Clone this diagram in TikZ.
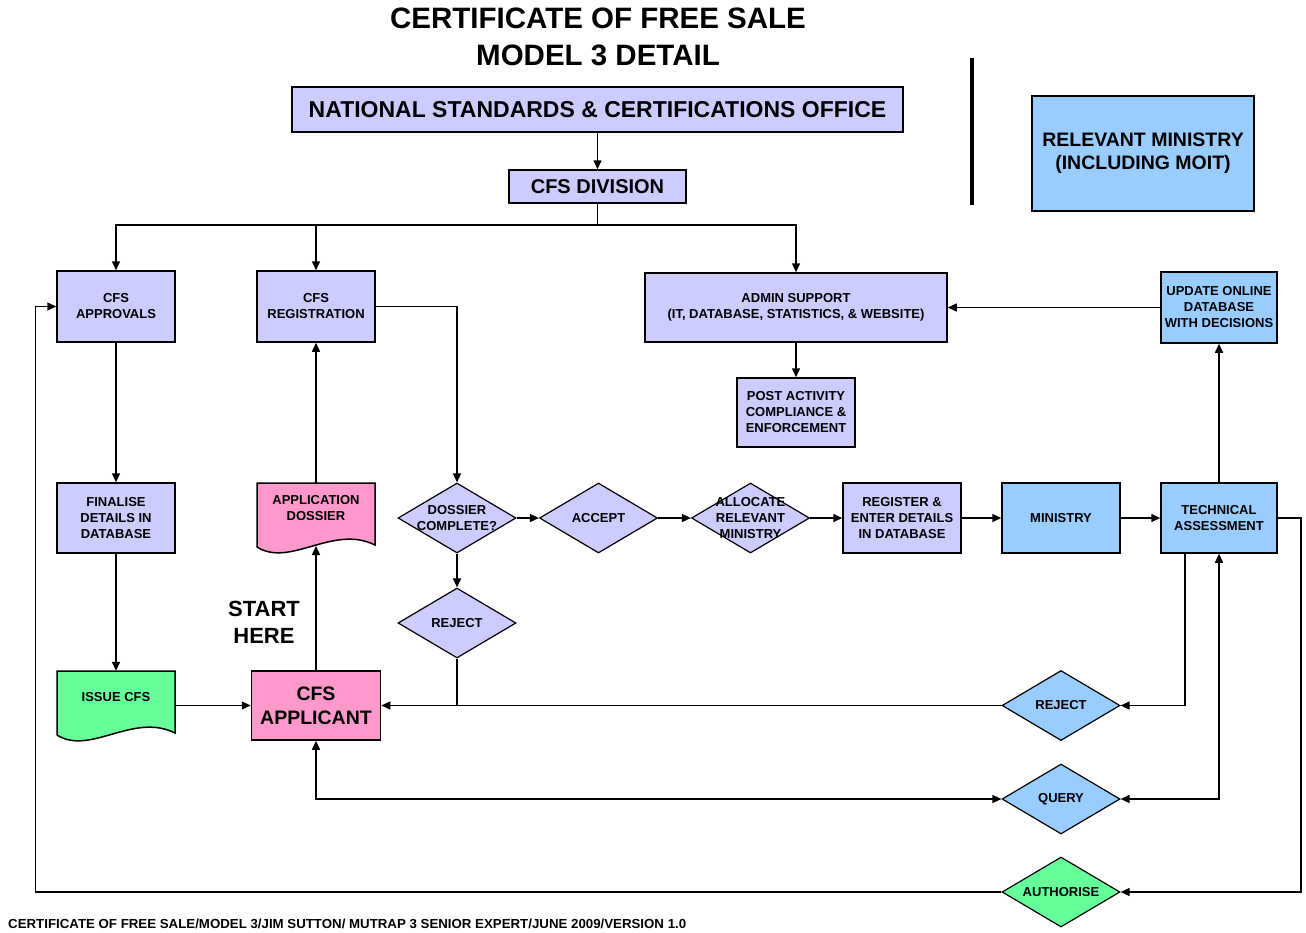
\documentclass[tikz,border=0pt]{standalone}
\usepackage{fontspec}
\setmainfont{Liberation Sans}
\usetikzlibrary{shapes.geometric,arrows.meta,calc}
\definecolor{lav}{HTML}{CCCCFF}
\definecolor{sky}{HTML}{99CCFF}
\definecolor{rose}{HTML}{FF99CC}
\definecolor{mint}{HTML}{66FF99}
\newcommand\docshape[3]{\draw[line width=1.5pt, fill=#3] (#1,#2) -- ++(118,0) -- ++(0,62) .. controls +(-42,-21) and +(33,21) .. ++(-118,2) -- cycle;}
\begin{document}
\begin{tikzpicture}[x=1pt,y=-1pt,
  every node/.style={font=\bfseries},
  box/.style={draw, line width=1.5pt, inner sep=0pt, align=center, minimum width=118, minimum height=70, font=\bfseries\fontsize{13}{16}\selectfont},
  dia/.style={draw, line width=1.2pt, diamond, inner sep=0pt, minimum width=118, minimum height=70},
  dtext/.style={align=center, inner sep=0pt, font=\bfseries\fontsize{13}{16}\selectfont},
  docnode/.style={draw=none, inner sep=0pt, minimum width=118},
  line/.style={line width=1.5pt},
  arr/.style={line width=1.5pt, -{Triangle[length=9pt,width=8pt]}},
  arrtwo/.style={line width=1.5pt, {Triangle[length=9pt,width=8pt]}-{Triangle[length=9pt,width=8pt]}}
]
\useasboundingbox[fill=white] (0,0) rectangle (1306,932);

% title
\node[align=center, font=\bfseries\fontsize{29.5}{37}\selectfont] (title) at (598,36.5) {CERTIFICATE OF FREE SALE\\MODEL 3 DETAIL};

% top boxes
\node[box, fill=lav, minimum width=611, minimum height=45, font=\bfseries\fontsize{23}{26}\selectfont] (nsco) at (597.5,109.5) {NATIONAL STANDARDS \& CERTIFICATIONS OFFICE};
\node[box, fill=lav, minimum width=177, minimum height=33, font=\bfseries\fontsize{20}{24}\selectfont] (cfsdiv) at (597.5,186.5) {CFS DIVISION};
\node[box, fill=sky, minimum width=222, minimum height=115, font=\bfseries\fontsize{19.5}{23}\selectfont] (relmin) at (1143,153.5) {RELEVANT MINISTRY\\(INCLUDING MOIT)};
\draw[line width=4pt] (972,58) -- (972,205);

% second row
\node[box, fill=lav, minimum height=71] (approvals) at (116,306.5) {CFS\\APPROVALS};
\node[box, fill=lav, minimum height=71] (registration) at (316,306.5) {CFS\\REGISTRATION};
\node[box, fill=lav, minimum width=302, minimum height=69] (admin) at (796,307.5) {ADMIN SUPPORT\\(IT, DATABASE, STATISTICS, \& WEBSITE)};
\node[box, fill=lav, minimum height=69] (post) at (796,412.5) {POST ACTIVITY\\COMPLIANCE \&\\ENFORCEMENT};
\node[box, fill=sky, minimum width=116, minimum height=71] (update) at (1219,307.5) {UPDATE ONLINE\\DATABASE\\WITH DECISIONS};

% third row
\node[box, fill=lav] (finalise) at (116,518) {FINALISE\\DETAILS IN\\DATABASE};
\docshape{257}{483}{rose}
\node[docnode, minimum height=65] (dossier) at (316,515.5) {};
\node[dtext] (dossiertext) at (316,508) {APPLICATION\\DOSSIER};
\coordinate (dossierwave) at (316,546);
\node[dia, fill=lav] (dc) at (457,518) {};
\node[dtext] (dctext) at (457,518) {DOSSIER\\COMPLETE?};
\node[dia, fill=lav] (accept) at (598.5,518) {};
\node[dtext] (accepttext) at (598.5,518) {ACCEPT};
\node[dia, fill=lav] (allocate) at (750.5,518) {};
\node[dtext] (allocatetext) at (750.5,518) {ALLOCATE\\RELEVANT\\MINISTRY};
\node[box, fill=lav] (register) at (902,518) {REGISTER \&\\ENTER DETAILS\\IN DATABASE};
\node[box, fill=sky] (ministry) at (1061,518) {MINISTRY};
\node[box, fill=sky, minimum width=116] (tech) at (1219,518) {TECHNICAL\\ASSESSMENT};

% lower part
\node[dia, fill=lav] (rejectp) at (457,623) {};
\node[dtext] (rejectptext) at (457,623) {REJECT};
\node[align=center, font=\bfseries\fontsize{22}{27}\selectfont] (start) at (264,622.5) {START\\HERE};
\docshape{57}{671}{mint}
\node[docnode, minimum height=69] (issue) at (116,705.5) {};
\node[dtext] (issuetext) at (116,697) {ISSUE CFS};
\node[box, fill=rose, minimum width=129, minimum height=69, font=\bfseries\fontsize{19.5}{24}\selectfont] (applicant) at (316,705.5) {CFS\\APPLICANT};
\node[dia, fill=sky] (rejectb) at (1061,705.5) {};
\node[dtext] (rejectbtext) at (1061,705.5) {REJECT};
\node[dia, fill=sky] (query) at (1061,799) {};
\node[dtext] (querytext) at (1061,799) {QUERY};
\node[dia, fill=mint] (authorise) at (1061,892) {};
\node[dtext] (authorisetext) at (1061,892) {AUTHORISE};

% footer
\node[anchor=west, inner sep=0pt] (footer) at (8,924) {\resizebox{678pt}{9.5pt}{\bfseries CERTIFICATE OF FREE SALE/MODEL 3/JIM SUTTON/ MUTRAP 3 SENIOR EXPERT/JUNE 2009/VERSION 1.0}};

% connectors
\draw[arr] (nsco.south) -- (cfsdiv.north);
\coordinate (bus) at (597.5,225);
\draw[line] (cfsdiv.south) -- (bus);
\draw[arr] (bus) -| (approvals.north);
\draw[arr] (bus) -| (registration.north);
\draw[arr] (bus) -| (admin.north);
\draw[arr] (registration.east) -| (dc.north);
\draw[arr] (admin.south) -- (post.north);
\draw[arr] (update.west) -- (admin.east);
\draw[arr] (tech.north) -- (update.south);
\draw[arr] (approvals.south) -- (finalise.north);
\draw[arr] (finalise.south) -- (issue.north);
\draw[arr] (issue.east) -- (applicant.west);
\draw[arr] (applicant.north) -- (dossierwave);
\draw[arr] (dossier.north) -- (registration.south);
\draw[arr] (dc.east) -- (accept.west);
\draw[arr] (accept.east) -- (allocate.west);
\draw[arr] (allocate.east) -- (register.west);
\draw[arr] (register.east) -- (ministry.west);
\draw[arr] (ministry.east) -- (tech.west);
\draw[arr] (dc.south) -- (rejectp.north);
\draw[line] (rejectp.south) -- (rejectp.south |- applicant.east);
\draw[arr] (rejectb.west) -- (applicant.east);
\draw[arr] ([xshift=-34pt]tech.south) |- (rejectb.east);
\draw[arrtwo] (tech.south) |- (query.east);
\draw[arrtwo] (applicant.south) |- (query.west);
\draw[arr] (tech.east) -- ++(23,0) |- (authorise.east);
\draw[arr] (authorise.west) -| ([xshift=-21pt]approvals.west) -- (approvals.west);
\end{tikzpicture}
\end{document}
